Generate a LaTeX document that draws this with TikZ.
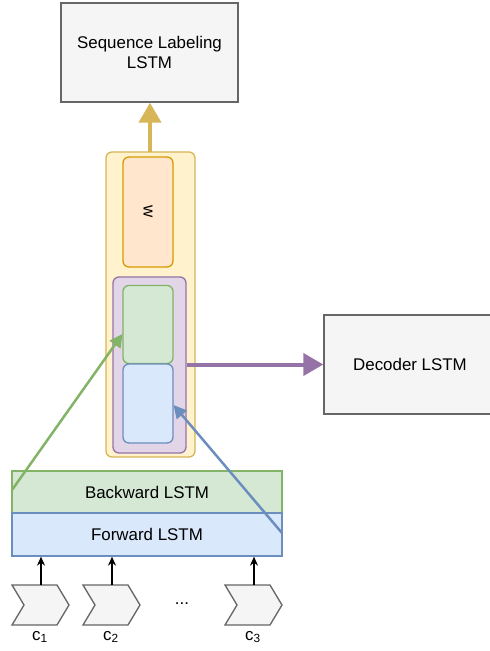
\documentclass[tikz,border=0pt]{standalone}
\usepackage{fontspec}
\setmainfont{Liberation Sans}
\usetikzlibrary{arrows.meta}
\definecolor{grayF}{HTML}{F5F5F5}
\definecolor{grayS}{HTML}{666666}
\definecolor{yelF}{HTML}{FFF2CC}
\definecolor{yelS}{HTML}{D6B656}
\definecolor{orF}{HTML}{FFE6CC}
\definecolor{orS}{HTML}{D79B00}
\definecolor{puF}{HTML}{E1D5E7}
\definecolor{puS}{HTML}{9673A6}
\definecolor{grF}{HTML}{D5E8D4}
\definecolor{grS}{HTML}{82B366}
\definecolor{blF}{HTML}{DAE8FC}
\definecolor{blS}{HTML}{6C8EBF}
\begin{document}
\begin{tikzpicture}[x=1pt,y=-1pt,line width=1.3pt,
  every node/.style={font=\fontsize{16.9}{19.5}\selectfont, text=black},
  box/.style={draw=grayS, fill=grayF, inner sep=0pt, align=center},
  rbox/.style={rounded corners=6pt, inner sep=0pt},
  fat/.style={line width=4pt, -{Triangle[length=20pt,width=22pt]}},
  thin/.style={line width=1.4pt, -{Stealth[length=9pt,width=8pt]}},
  chev/.style={draw=grayS, fill=grayF, line width=1.3pt}]
\useasboundingbox (0,0) rectangle (490,651);
% top box
\node[box, minimum width=177pt, minimum height=99pt] (seq) at (149.5,52.5) {Sequence Labeling\\LSTM};
% decoder
\begin{scope}
\clip (0,0) rectangle (490,651);
\node[box, minimum width=172pt, minimum height=99pt] (dec) at (410,364.5) {Decoder LSTM};
\end{scope}
% yellow container
\draw[rbox, draw=yelS, fill=yelF, line width=1.3pt] (106,152) rectangle (195,457);
\coordinate (yt) at (150,152);
\node[rbox, draw=orS, fill=orF, minimum width=50pt, minimum height=110pt, line width=1.3pt] (w) at (148,212) {};
\node[rotate=-90] at (w) {w};
\node[rbox, draw=puS, fill=puF, minimum width=73pt, minimum height=176pt, line width=1.3pt] (pu) at (149.5,365) {};
\node[rbox, draw=grS, fill=grF, minimum width=50pt, minimum height=78pt, line width=1.3pt] (gr) at (148,324.5) {};
\node[rbox, draw=blS, fill=blF, minimum width=50pt, minimum height=79pt, line width=1.3pt] (bl) at (148,403.5) {};
% LSTM layers
\node[draw=grS, fill=grF, minimum width=270pt, minimum height=42pt, inner sep=0pt, line width=1.3pt] (bw) at (147,492) {Backward LSTM};
\node[draw=blS, fill=blF, minimum width=270pt, minimum height=43pt, inner sep=0pt, line width=1.3pt] (fw) at (147,534.5) {Forward LSTM};
% arrows
\draw[fat, draw=yelS, fill=yelS] (yt) -- (yt |- seq.south);
\draw[fat, draw=puS, fill=puS] (pu.east |- dec.west) -- (dec.west);
\coordinate (gs) at (12,490);
\coordinate (bs) at (282,533);
\draw[line width=2.5pt, draw=grS, -{Triangle[length=13pt,width=13pt]}] (gs) -- (122.5,334);
\draw[line width=2.5pt, draw=blS, -{Triangle[length=13pt,width=13pt]}] (bs) -- (173.5,405);
% chevrons
\foreach \n/\x in {c1/12, c2/83, c3/225} {
  \draw[chev] (\x,585) -- ++(45,0) -- ++(12,20) -- ++(-12,20) -- ++(-45,0) -- ++(12,-20) -- cycle;
  \coordinate (\n) at (\x+29,585);
}
\draw[thin] (c1) -- (c1 |- fw.south);
\draw[thin] (c2) -- (c2 |- fw.south);
\draw[thin] (c3) -- (c3 |- fw.south);
\node (dots) at (182,604) {...};
\node (l1) at (40,637) {c\textsubscript{1}};
\node (l2) at (111,637) {c\textsubscript{2}};
\node (l3) at (253,637) {c\textsubscript{3}};
\end{tikzpicture}
\end{document}
